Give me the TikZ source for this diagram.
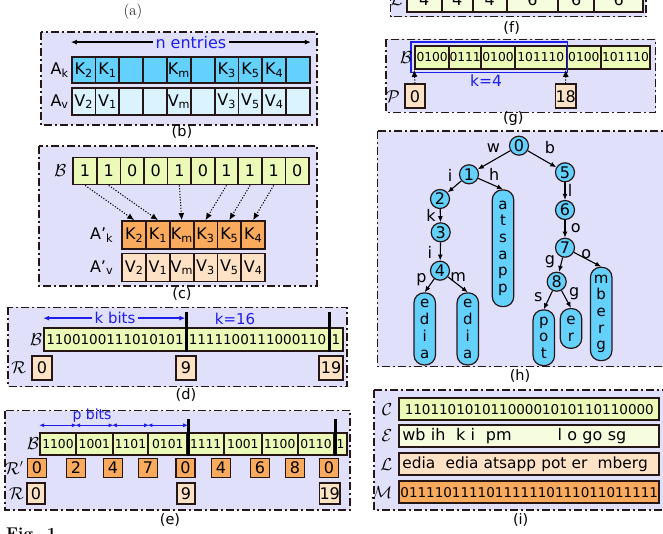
\documentclass[tikz,border=0pt]{standalone}
\usepackage{fontspec}
\setsansfont{DejaVu Sans}
\renewcommand{\familydefault}{\sfdefault}
\usetikzlibrary{arrows.meta,calc,positioning}

\definecolor{panelbg}{RGB}{224,224,250}
\definecolor{keycyan}{RGB}{100,208,252}
\definecolor{valcyan}{RGB}{218,243,255}
\definecolor{bitgreen}{RGB}{235,250,182}
\definecolor{keyorange}{RGB}{249,170,92}
\definecolor{peach}{RGB}{254,226,198}
\definecolor{cream}{RGB}{246,252,222}
\definecolor{inkblue}{RGB}{30,30,235}
\definecolor{ink}{RGB}{38,22,22}

\begin{document}
\begin{tikzpicture}[x=1pt, y=-1pt, font=\sffamily,
  panel/.style={draw=ink, fill=panelbg, line width=1.4pt, dash pattern=on 8pt off 3pt on 2pt off 3pt},
  cell/.style={draw=ink, line width=1.8pt, inner sep=0pt, font=\sffamily\fontsize{16}{18}\selectfont},
  bits/.style={font=\sffamily\fontsize{13.5}{16}\selectfont},
  smallbits/.style={font=\sffamily\fontsize{12.3}{14}\selectfont},
  rowlbl/.style={inner sep=0pt, font=\sffamily\fontsize{16}{18}\selectfont},
  captxt/.style={inner sep=0pt, font=\sffamily\fontsize{14.5}{16}\selectfont},
  bluetext/.style={text=inkblue, inner sep=0pt},
  spanarrow/.style={{Latex[length=6pt,width=5pt]}-{Latex[length=6pt,width=5pt]}, line width=1.4pt},
  bluespan/.style={spanarrow, draw=inkblue},
  pspan/.style={{Latex[length=5pt,width=4pt]}-{Latex[length=5pt,width=4pt]}, line width=1.2pt, draw=inkblue},
  dotarrow/.style={-{Latex[length=7pt,width=6pt]}, line width=1pt, dash pattern=on 1.2pt off 1.6pt},
  divbar/.style={line width=3pt, draw=black},
  tnode/.style={circle, draw=ink, fill=keycyan, line width=1.2pt, minimum size=19pt, inner sep=0pt, font=\sffamily\fontsize{16}{18}\selectfont},
  leafbox/.style={draw=ink, fill=keycyan, line width=1.2pt, rounded corners=10pt, minimum width=21.5pt, minimum height=#1, inner sep=0pt, anchor=north, align=center, font=\sffamily\fontsize{15}{16.7}\selectfont},
  tedge/.style={-{Latex[length=6pt,width=5pt]}, line width=1.1pt},
  elbl/.style={inner sep=0pt, font=\sffamily\fontsize{16}{18}\selectfont}
]
\useasboundingbox (0,0) rectangle (663,533);
\clip (0,0) rectangle (663,533);

% (a)
\node[captxt, font=\rmfamily\fontsize{15.5}{17}\selectfont] (cap-a) at (133,12) {(a)};

% (b) key and value arrays
\draw[panel] (41,32) rectangle (317,125);
\foreach \lbl [count=\i] in {K\textsubscript{2},K\textsubscript{1},{},{},K\textsubscript{m},{},K\textsubscript{3},K\textsubscript{5},K\textsubscript{4},{}}
  \node[cell, fill=keycyan, minimum width=23.8pt, minimum height=26pt] (ak\i) at ({71.7+23.83*(\i-0.5)},70) {\lbl};
\foreach \lbl [count=\i] in {V\textsubscript{2},V\textsubscript{1},{},{},V\textsubscript{m},{},V\textsubscript{3},V\textsubscript{5},V\textsubscript{4},{}}
  \node[cell, fill=valcyan, minimum width=23.8pt, minimum height=27pt] (av\i) at ({71.7+23.83*(\i-0.5)},101.5) {\lbl};
\node[rowlbl, left=2pt of ak1] (ak-name) {A\textsubscript{k}};
\node[rowlbl, left=2pt of av1] (av-name) {A\textsubscript{v}};
\draw[spanarrow] ([yshift=14pt]ak1.north west) -- ([yshift=14pt]ak10.north east)
  node[midway, bluetext, fill=panelbg, inner xsep=3pt, font=\sffamily\fontsize{16}{18}\selectfont] (n-entries) {n entries};
\node[captxt] (cap-b) at (182,132) {(b)};

% (c) compacted arrays
\draw[panel] (39,146) rectangle (317,286);
\foreach \b [count=\i] in {1,1,0,0,1,0,1,1,1,0}
  \node[cell, fill=bitgreen, minimum width=23.6pt, minimum height=27pt] (cb\i) at ({73.3+23.57*(\i-0.5)},171) {\b};
\node[rowlbl, left=6pt of cb1] (cb-name) {$\mathcal{B}$};
\foreach \s [count=\i] in {2,1,m,3,5,4} {
  \node[cell, fill=keyorange, minimum width=23.8pt, minimum height=28pt] (cak\i) at ({122.3+23.78*(\i-0.5)},235) {K\textsubscript{\s}};
  \node[cell, fill=peach, minimum width=23.8pt, minimum height=28pt] (cav\i) at ({122.3+23.78*(\i-0.5)},267.5) {V\textsubscript{\s}};
}
\node[rowlbl, left=8pt of cak1] (cak-name) {A'\textsubscript{k}};
\node[rowlbl, left=8pt of cav1] (cav-name) {A'\textsubscript{v}};
\foreach \s/\t in {1/1,2/2,5/3,7/4,8/5,9/6}
  \draw[dotarrow] (cb\s.south) -- (cak\t.north);
\node[captxt] (cap-c) at (182,294) {(c)};

% (d) rank directory
\draw[panel] (8,307.3) rectangle (347,386.7);
\node[cell, bits, fill=bitgreen, minimum width=142pt, minimum height=23.3pt] (db1) at (115,339.3) {1100100111010101};
\node[cell, bits, fill=bitgreen, minimum width=143pt, minimum height=23.3pt] (db2) at (257.5,339.3) {1111100111000110};
\node[cell, bits, fill=bitgreen, minimum width=14pt, minimum height=23.3pt] (db3) at (336,339.3) {1};
\draw[divbar] (db1.south east) -- ++(0,-39.5);
\draw[divbar] (db2.south east) -- ++(0,-39.5);
\draw[bluespan, shorten >=1.5pt] ([yshift=8.6pt]db1.north west) -- ([yshift=8.6pt]db1.north east)
  node[midway, bluetext, fill=panelbg, inner xsep=3pt, font=\sffamily\fontsize{15}{17}\selectfont] (kbits) {k bits};
\node[bluetext, font=\sffamily\fontsize{15}{17}\selectfont] (k16) at (235,319) {k=16};
\foreach \c/\w/\t [count=\i] in {42/20/0,186/20/9,331/24/19}
  \node[cell, fill=peach, minimum width=\w pt, minimum height=24pt] (dr\i) at (\c,368) {\t};
\node[rowlbl, left=1pt of db1] (db-name) {$\mathcal{B}$};
\node[rowlbl, left=5pt of dr1] (dr-name) {$\mathcal{R}$};
\node[captxt] (cap-d) at (186,395) {(d)};

% (e) two-level rank directory
\draw[panel] (5,410.7) rectangle (350,510);
\foreach \c/\w/\t [count=\i] in {58/36/1100,94.35/36.7/1001,130.5/35.6/1101,167.8/39/0101,205.65/36.7/1111,242.85/37.7/1001,279.7/36/1100,316/36.6/0110,340.5/12.4/1}
  \node[cell, smallbits, fill=bitgreen, minimum width=\w pt, minimum height=21.7pt] (eb\i) at (\c,444) {\t};
\draw[divbar] (eb4.south east) -- ++(0,-37);
\draw[divbar] (eb8.south east) -- ++(0,-37);
\foreach \i in {1,...,4}
  \draw[pspan] ([yshift=7pt]eb\i.north west) -- ([yshift=7pt]eb\i.north east);
\node[bluetext, font=\sffamily\fontsize{14}{16}\selectfont] (pbits) at (92,416) {p bits};
\foreach \c/\t [count=\i] in {37/0,76/2,113/4,148/7,185.5/0,221/4,260/6,295/8,329/0}
  \node[cell, fill=keyorange, minimum width=19pt, minimum height=19pt] (erp\i) at (\c,468) {\t};
\foreach \c/\t [count=\i] in {36/0,186/9,329.7/19}
  \node[cell, fill=peach, minimum width=18.5pt, minimum height=21.3pt] (er\i) at (\c,493.3) {\t};
\node[rowlbl, left=0pt of eb1] (eb-name) {$\mathcal{B}$};
\node[rowlbl, left=3pt of erp1] (erp-name) {$\mathcal{R}'$};
\node[rowlbl, left=2pt of er1] (er-name) {$\mathcal{R}$};
\node[captxt] (cap-e) at (170,520) {(e)};
\node[font=\rmfamily\bfseries\fontsize{17}{20}\selectfont, anchor=north west, inner sep=0pt] (fig-no) at (6,528) {Fig. 1};

% (f) leaf lengths
\draw[panel] (390.7,-60) rectangle (646,16.7);
\foreach \c/\w/\t [count=\i] in {424.2/35/4,457.2/31/4,489.7/34/4,532.5/51.6/6,576.2/35.7/6,618.7/49.3/6}
  \node[cell, fill=cream, minimum width=\w pt, minimum height=25.6pt] (fl\i) at (\c,-0.5) {\t};
\node[rowlbl, left=3pt of fl1] (fl-name) {$\mathcal{L}$};
\node[captxt] (cap-f) at (511.7,28) {(f)};

% (g) pointers into bit blocks
\draw[panel] (386,39.3) rectangle (655.7,112.3);
\foreach \c/\w/\t [count=\i] in {432.15/34.3/0100,465.15/31.7/0111,498/34/0100,540.85/51.7/101110,583.85/34.3/0100,625.5/49/101110}
  \node[cell, smallbits, fill=bitgreen, minimum width=\w pt, minimum height=23.3pt] (gb\i) at (\c,57.3) {\t};
\draw[draw=inkblue, line width=1.6pt] ([xshift=-3.3pt,yshift=3pt]gb1.north west) rectangle ([yshift=-2.6pt]gb4.south east);
\node[bluetext, font=\sffamily\fontsize{15.5}{17}\selectfont] (k4) at (486,81) {k=4};
\node[cell, fill=peach, minimum width=20pt, minimum height=24pt] (gp1) at (415,96.3) {0};
\node[cell, fill=peach, minimum width=20pt, minimum height=24pt] (gp2) at (565.7,96.3) {18};
\draw[dotarrow] (gp1.north) -- (gb1.south west);
\draw[dotarrow] (gp2.north) -- (gb5.south west);
\node[rowlbl, left=2pt of gb1] (gb-name) {$\mathcal{B}$};
\node[rowlbl, left=4pt of gp1] (gp-name) {$\mathcal{P}$};
\node[captxt] (cap-g) at (513.3,118.3) {(g)};

% (h) trie
\draw[panel] (377.3,131) rectangle (690,366.7);
\node[tnode] (t0) at (519,145.7) {0};
\node[tnode] (t1) at (469,174.3) {1};
\node[tnode] (t5) at (565,172.3) {5};
\node[tnode] (t2) at (440,199) {2};
\node[tnode] (t6) at (565,210) {6};
\node[tnode] (t3) at (440.7,232.3) {3};
\node[tnode] (t7) at (565,247.7) {7};
\node[tnode] (t4) at (440,270.7) {4};
\node[tnode] (t8) at (556.7,281.7) {8};
\node[leafbox=116.7pt] (lf-atsapp) at (503,189.3) {a\\t\\s\\a\\p\\p};
\node[leafbox=72pt] (lf-edia1) at (424.7,292.3) {e\\d\\i\\a};
\node[leafbox=72pt] (lf-edia2) at (467.8,292.3) {e\\d\\i\\a};
\node[leafbox=55.7pt] (lf-pot) at (543.8,309.3) {p\\o\\t};
\node[leafbox=39.7pt] (lf-er) at (571,308) {e\\r};
\node[leafbox=93.3pt] (lf-mberg) at (601.2,266.7) {m\\b\\e\\r\\g};
\draw[tedge] (t0) -- node[elbl, xshift=-0.7pt, yshift=12.3pt] {w} (t1);
\draw[tedge] (t0) -- node[elbl, xshift=8pt, yshift=11.3pt] {b} (t5);
\draw[tedge] (t1) -- node[elbl, xshift=-4.5pt, yshift=11.7pt] {i} (t2);
\draw[tedge] (t1) -- node[elbl, xshift=3.6pt, yshift=9.4pt] {h} (lf-atsapp.north);
\draw[tedge] (t5) -- node[elbl, xshift=5pt, yshift=0.5pt] {l} (t6);
\draw[tedge] (t2) -- node[elbl, xshift=-9.4pt] {k} (t3);
\draw[tedge] (t6) -- node[elbl, xshift=10.7pt, yshift=1.2pt] {o} (t7);
\draw[tedge] (t3) -- node[elbl, xshift=-10.4pt, yshift=-0.5pt] {i} (t4);
\draw[tedge] (t7) -- node[elbl, xshift=-10.9pt, yshift=3pt] {g} (t8);
\draw[tedge] (t7) -- node[elbl, xshift=-1.3pt, yshift=5.4pt] {o} (lf-mberg.north);
\draw[tedge] (t4) -- node[elbl, xshift=-7.9pt, yshift=6.1pt] {p} (lf-edia1.north);
\draw[tedge] (t4) -- node[elbl, xshift=0.3pt, yshift=7.4pt] {m} (lf-edia2.north);
\draw[tedge] (t8) -- node[elbl, xshift=-9.9pt, yshift=3.1pt] {s} (lf-pot.north);
\draw[tedge] (t8) -- node[elbl, xshift=7.9pt, yshift=5.7pt] {g} (lf-er.north);
\node[captxt] (cap-h) at (520,376) {(h)};

% (i) succinct trie arrays
\draw[panel] (374,390) rectangle (690,510);
\node[cell, bits, fill=bitgreen, minimum width=260pt, minimum height=21.7pt] (ic) at (529.3,409.2) {11011010101100001010110110000};
\node[cell, fill=cream, text width=254pt, align=left, inner xsep=3pt, minimum height=21.7pt] (ie) at (529.3,435.8) {\mbox{wb ih~~k i~~pm\hspace{46pt}l o go sg}};
\node[cell, fill=peach, text width=254pt, align=left, inner xsep=3pt, minimum height=21.7pt, font=\sffamily\fontsize{15.4}{18}\selectfont] (il) at (529.3,464.2) {\mbox{edia~~edia atsapp pot er~~mberg}};
\node[cell, bits, fill=keyorange, minimum width=260pt, minimum height=22.3pt] (im) at (529.3,492.2) {011110111101111110111011011111};
\node[rowlbl, left=6pt of ic] (ic-name) {$\mathcal{C}$};
\node[rowlbl, left=6pt of ie] (ie-name) {$\mathcal{E}$};
\node[rowlbl, left=6pt of il] (il-name) {$\mathcal{L}$};
\node[rowlbl, left=6pt of im] (im-name) {$\mathcal{M}$};
\node[captxt] (cap-i) at (520.7,520) {(i)};
\end{tikzpicture}
\end{document}
